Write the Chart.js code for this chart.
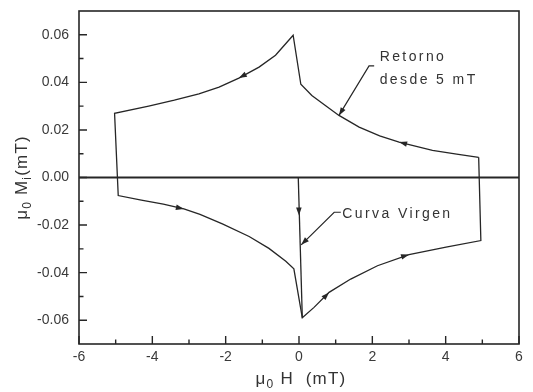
<!DOCTYPE html>
<html>
<head>
<meta charset="utf-8">
<script src="https://cdn.jsdelivr.net/npm/chart.js@4/dist/chart.umd.min.js"></script>
<style>
  html, body { margin: 0; padding: 0; background: #fff; }
  #wrap { width: 533px; height: 392px; }
</style>
</head>
<body>
<div id="wrap"><canvas id="c" width="533" height="392"></canvas></div>
<script>
// ---- data ----
const loopH = [4.90, 4.30, 3.64, 2.73, 2.20, 1.64, 1.09, 0.70, 0.35, 0.05, -0.16,
  -0.40, -0.64, -1.09, -1.64, -2.18, -2.73, -3.40, -4.10, -5.03, -4.93,
  -4.30, -3.70, -3.14, -2.70, -2.09, -1.36, -0.82, -0.36, -0.14, 0.09,
  0.41, 0.82, 1.41, 2.14, 3.00, 4.01, 4.96, 4.90];
const loopM = [0.0085, 0.0098, 0.0114, 0.0149, 0.0175, 0.0212, 0.0261, 0.0305, 0.0345, 0.0392, 0.0598,
  0.0556, 0.0514, 0.0464, 0.0418, 0.0380, 0.0352, 0.0325, 0.0300, 0.0270, -0.0076,
  -0.0095, -0.0112, -0.0132, -0.0155, -0.0195, -0.0248, -0.0298, -0.0352, -0.0384, -0.0590,
  -0.0546, -0.0483, -0.0427, -0.0371, -0.0324, -0.0293, -0.0265, 0.0085];
const virginH = [-0.02, 0.09];
const virginM = [0.0, -0.0590];

const xTickValues = [-6, -4, -2, 0, 2, 4, 6];
const xMinorValues = [-5, -3, -1, 1, 3, 5];
const yTickValues = [-0.06, -0.04, -0.02, 0.00, 0.02, 0.04, 0.06];
const yMinorValues = [-0.05, -0.03, -0.01, 0.01, 0.03, 0.05];

// arrowheads on curves: [fromH, fromM, toH, toM] (head at "to")
const curveArrows = [
  [-1.40, 0.0438, -1.64, 0.0418],
  [3.00, 0.0138, 2.73, 0.0149],
  [-3.40, -0.0123, -3.14, -0.0132],
  [0.60, -0.0518, 0.82, -0.0483],
  [2.75, -0.0336, 3.00, -0.0324],
  [-0.01, -0.008, 0.00, -0.016]
];

// annotations
const annoRetornoLines = ["Retorno", "desde 5 mT"];
const annoRetornoH = 2.20, annoRetornoM = [0.0505, 0.0410];
const leaderRetornoH = [2.05, 1.91, 1.09];
const leaderRetornoM = [0.0469, 0.0469, 0.0261];
const annoVirgenText = "Curva Virgen";
const annoVirgenH = 1.18, annoVirgenM = -0.0152;
const leaderVirgenH = [1.14, 0.96, 0.06];
const leaderVirgenM = [-0.0146, -0.0146, -0.0283];

const ink = '#262626';
const labelColor = '#3a3a3a';

function toPts(xs, ys) { return xs.map((x, i) => ({ x: x, y: ys[i] })); }

function arrowHead(ctx, x0, y0, x1, y1, len, half) {
  const a = Math.atan2(y1 - y0, x1 - x0);
  ctx.beginPath();
  ctx.moveTo(x1, y1);
  ctx.lineTo(x1 - len * Math.cos(a) + half * Math.sin(a), y1 - len * Math.sin(a) - half * Math.cos(a));
  ctx.lineTo(x1 - len * Math.cos(a) - half * Math.sin(a), y1 - len * Math.sin(a) + half * Math.cos(a));
  ctx.closePath();
  ctx.fill();
}

function richText(ctx, segs, x, y, size, subSize, spacing) {
  let w = 0;
  segs.forEach(s => {
    ctx.font = (s.sub ? subSize : size) + 'px "Liberation Sans", Arial, sans-serif';
    ctx.letterSpacing = spacing + 'px';
    w += ctx.measureText(s.t).width;
  });
  let cx = x - w / 2;
  segs.forEach(s => {
    ctx.font = (s.sub ? subSize : size) + 'px "Liberation Sans", Arial, sans-serif';
    ctx.letterSpacing = spacing + 'px';
    ctx.fillText(s.t, cx, y + (s.sub ? size * 0.35 : 0));
    cx += ctx.measureText(s.t).width;
  });
}

function noPad(s) { s.paddingTop = 0; s.paddingBottom = 0; s.paddingLeft = 0; s.paddingRight = 0; }

const decor = {
  id: 'decor',
  beforeDatasetsDraw(chart) {
    const { ctx, chartArea: a, scales: { x, y } } = chart;
    ctx.save();
    ctx.strokeStyle = ink;
    ctx.lineWidth = 2;
    ctx.beginPath();
    ctx.moveTo(a.left, y.getPixelForValue(0));
    ctx.lineTo(a.right, y.getPixelForValue(0));
    ctx.stroke();
    ctx.restore();
  },
  afterDatasetsDraw(chart) {
    const { ctx, chartArea: a, scales: { x, y } } = chart;
    ctx.save();
    ctx.strokeStyle = ink;
    ctx.fillStyle = ink;
    ctx.lineWidth = 1.6;
    ctx.strokeRect(a.left, a.top, a.right - a.left, a.bottom - a.top);
    ctx.lineWidth = 1.4;
    ctx.beginPath();
    xTickValues.forEach(v => { const p = x.getPixelForValue(v); ctx.moveTo(p, a.bottom); ctx.lineTo(p, a.bottom - 8); });
    xMinorValues.forEach(v => { const p = x.getPixelForValue(v); ctx.moveTo(p, a.bottom); ctx.lineTo(p, a.bottom - 4.5); });
    yTickValues.forEach(v => { const p = y.getPixelForValue(v); ctx.moveTo(a.left, p); ctx.lineTo(a.left + 8, p); });
    yMinorValues.forEach(v => { const p = y.getPixelForValue(v); ctx.moveTo(a.left, p); ctx.lineTo(a.left + 4.5, p); });
    ctx.stroke();
    curveArrows.forEach(r => {
      arrowHead(ctx, x.getPixelForValue(r[0]), y.getPixelForValue(r[1]),
        x.getPixelForValue(r[2]), y.getPixelForValue(r[3]), 8, 2.8);
    });
    ctx.lineWidth = 1.2;
    [[leaderRetornoH, leaderRetornoM], [leaderVirgenH, leaderVirgenM]].forEach(([hs, ms]) => {
      ctx.beginPath();
      hs.forEach((h, i) => {
        const px = x.getPixelForValue(h), py = y.getPixelForValue(ms[i]);
        if (i === 0) ctx.moveTo(px, py); else ctx.lineTo(px, py);
      });
      ctx.stroke();
      const n = hs.length;
      arrowHead(ctx, x.getPixelForValue(hs[n - 2]), y.getPixelForValue(ms[n - 2]),
        x.getPixelForValue(hs[n - 1]), y.getPixelForValue(ms[n - 1]), 8, 2.8);
    });
    ctx.fillStyle = '#333';
    ctx.font = '14px "Liberation Sans", Arial, sans-serif';
    ctx.letterSpacing = '2.4px';
    ctx.textBaseline = 'middle';
    ctx.textAlign = 'left';
    annoRetornoLines.forEach((t, i) => {
      ctx.fillText(t, x.getPixelForValue(annoRetornoH), y.getPixelForValue(annoRetornoM[i]));
    });
    ctx.fillText(annoVirgenText, x.getPixelForValue(annoVirgenH), y.getPixelForValue(annoVirgenM));
    const cxTitle = (a.left + a.right) / 2;
    richText(ctx, [{ t: 'μ' }, { t: '0', sub: true }, { t: ' H  (mT)' }], cxTitle + 2, a.bottom + 35, 17, 12, 1.2);
    ctx.save();
    ctx.translate(22, (a.top + a.bottom) / 2);
    ctx.rotate(-Math.PI / 2);
    richText(ctx, [{ t: 'μ' }, { t: '0', sub: true }, { t: ' M' }, { t: 'i', sub: true }, { t: '(mT)' }], 0, 0, 17, 12, 1.2);
    ctx.restore();
    ctx.restore();
  }
};

new Chart(document.getElementById('c'), {
  type: 'scatter',
  data: {
    datasets: [
      { data: toPts(loopH, loopM), showLine: true, borderColor: ink, borderWidth: 1.3, pointRadius: 0, tension: 0, fill: false },
      { data: toPts(virginH, virginM), showLine: true, borderColor: ink, borderWidth: 1.3, pointRadius: 0, tension: 0, fill: false }
    ]
  },
  options: {
    responsive: false,
    animation: false,
    events: [],
    layout: { padding: { left: 0, top: 11, right: 14, bottom: 0 } },
    plugins: { legend: { display: false }, tooltip: { enabled: false }, title: { display: false } },
    scales: {
      x: {
        type: 'linear', min: -6, max: 6,
        afterBuildTicks: s => { s.ticks = xTickValues.map(v => ({ value: v })); },
        afterFit: s => { s.height = 48; noPad(s); },
        grid: { display: false, drawTicks: false },
        border: { display: false },
        ticks: { color: labelColor, font: { size: 14, family: '"Liberation Sans", Arial, sans-serif' }, padding: 5, maxRotation: 0,
          callback: v => String(v) }
      },
      y: {
        type: 'linear', min: -0.07, max: 0.07,
        afterBuildTicks: s => { s.ticks = yTickValues.map(v => ({ value: v })); },
        afterFit: s => { s.width = 79; noPad(s); },
        grid: { display: false, drawTicks: false },
        border: { display: false },
        ticks: { color: labelColor, font: { size: 14, family: '"Liberation Sans", Arial, sans-serif' }, padding: 10,
          callback: v => (Math.abs(v) < 1e-9 ? 0 : v).toFixed(2) }
      }
    }
  },
  plugins: [decor]
});
</script>
</body>
</html>
